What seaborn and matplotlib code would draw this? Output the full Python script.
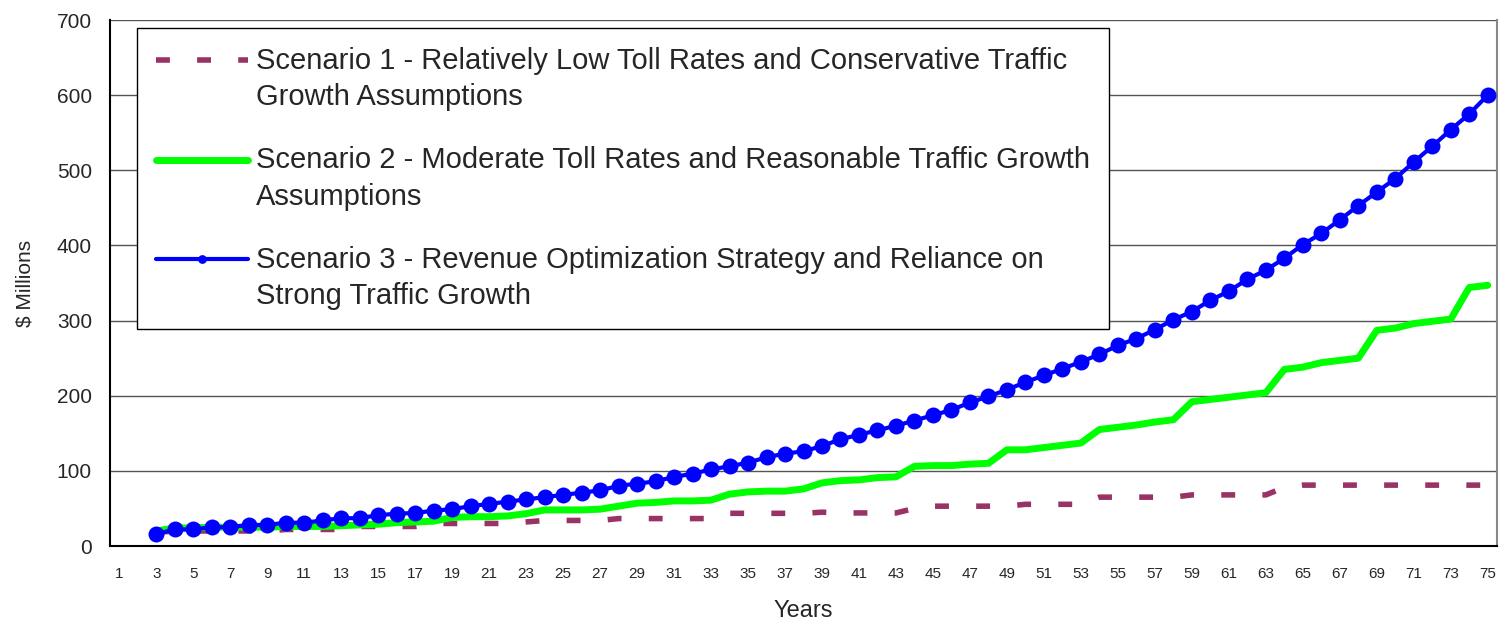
import numpy as np
import pandas as pd
import matplotlib
matplotlib.use("Agg")
import matplotlib.pyplot as plt
import seaborn as sns
from matplotlib.ticker import FixedLocator
from matplotlib.legend_handler import HandlerLine2D

years = list(range(3, 76))

scenario1 = [18, 20, 20, 20, 20, 20, 20, 22, 22, 22, 22, 26, 26, 26, 26,
             30, 30, 30, 30, 30, 32, 34, 34, 34, 34, 36.5, 36.5, 36.5, 36.5,
             36.5, 36.5, 43.5, 43.5, 43.5, 43.5, 43.5, 45, 44, 44, 44, 44,
             50, 53, 53, 53, 53, 53, 55.5, 55.5, 55.5, 55.5, 65, 65, 65, 65,
             65, 68, 68, 68, 68, 68, 78, 81, 81, 81, 81, 81, 81, 81, 81, 81,
             81, 81]

scenario2 = [20, 24, 24, 25, 25, 25, 25, 26, 26, 26, 27, 28, 29, 31, 32,
             33, 38, 39, 39, 40, 43, 48, 48, 48, 49, 53, 57, 58, 60, 60, 61,
             69, 72, 73, 73, 76, 84, 87, 88, 91, 92, 106, 107, 107, 109, 110,
             128, 128, 131, 134, 137, 155, 158, 161, 165, 168, 192, 195, 198,
             201, 204, 235, 238, 244, 247, 250, 287, 290, 296, 299, 302, 344,
             347]

scenario3 = [16, 22, 22, 25, 25, 28, 28, 31, 31, 34, 37, 37, 41, 43, 44,
             47, 49, 53, 56, 59, 62, 65, 68, 71, 74, 80, 83, 86, 92, 96, 102,
             106, 111, 118, 123, 126, 133, 142, 148, 154, 160, 167, 174, 181,
             191, 199, 208, 218, 227, 236, 245, 255, 267, 276, 288, 301, 312,
             327, 339, 355, 367, 383, 401, 416, 434, 453, 471, 489, 511, 532,
             554, 575, 600]

labels = [
    "Scenario 1 - Relatively Low Toll Rates and Conservative Traffic\nGrowth Assumptions",
    "Scenario 2 - Moderate Toll Rates and Reasonable Traffic Growth\nAssumptions",
    "Scenario 3 - Revenue Optimization Strategy and Reliance on\nStrong Traffic Growth",
]
x_tick_labels = [str(v) for v in range(1, 76, 2)]
y_ticks = [0, 100, 200, 300, 400, 500, 600, 700]

LEG_FS = 21
LEG_LS = 1.38


class TopLineHandler(HandlerLine2D):
    """Place the legend handle level with the first line of a two-line label."""
    def create_artists(self, legend, orig_handle, xdescent, ydescent, width,
                       height, fontsize, trans):
        artists = super().create_artists(legend, orig_handle, xdescent, ydescent,
                                         width, height, fontsize, trans)
        shift = 14.0
        for a in artists:
            y = np.asarray(a.get_ydata(), dtype=float)
            a.set_ydata(y + shift)
        return artists


sns.set_theme(style="white")
plt.rcParams["font.family"] = ["Liberation Sans", "DejaVu Sans"]

df = pd.DataFrame({"Year": years, "S1": scenario1, "S2": scenario2, "S3": scenario3})

fig = plt.figure(figsize=(15.08, 6.24), dpi=100)
ax = fig.add_axes([110 / 1508, 78 / 624, 1387 / 1508, 526 / 624])

sns.lineplot(data=df, x="Year", y="S1", ax=ax, color="#993366", linewidth=4,
             linestyle=(0, (2.5, 4.9)), label=labels[0], zorder=3)
ax.get_lines()[-1].set_dash_capstyle("butt")
sns.lineplot(data=df, x="Year", y="S2", ax=ax, color="#00FF00", linewidth=5,
             label=labels[1], zorder=4)
sns.lineplot(data=df, x="Year", y="S3", ax=ax, color="#0000FF", linewidth=3,
             marker="o", markersize=11.5, markeredgewidth=0, label=labels[2], zorder=5)

ax.set_xlim(0.5, 75.5)
ax.set_ylim(0, 700)
ax.set_yticks(y_ticks)
ax.set_yticklabels([str(v) for v in y_ticks], fontsize=15)
ax.xaxis.set_major_locator(FixedLocator(list(range(1, 76, 2))))
ax.set_xticklabels(x_tick_labels, fontsize=11)
ax.xaxis.set_minor_locator(FixedLocator([k + 0.5 for k in range(0, 76)]))
ax.tick_params(axis="x", which="major", length=0, pad=15)
ax.tick_params(axis="x", which="minor", length=5, width=1, color="black", direction="out")
ax.tick_params(axis="y", which="major", length=5, width=1, color="black", direction="out", pad=8)

ax.grid(False)
for v in y_ticks[1:]:
    ax.axhline(v, color="#555555", linewidth=1.0, zorder=1)

for side in ["left", "bottom"]:
    ax.spines[side].set_color("black")
    ax.spines[side].set_linewidth(1.5)
ax.spines["right"].set_color("#888888")
ax.spines["right"].set_linewidth(1.5)
ax.spines["top"].set_visible(False)

ax.set_xlabel("Years", fontsize=17, labelpad=14)
ax.set_ylabel("$ Millions", fontsize=15, labelpad=16)

handles, _ = ax.get_legend_handles_labels()
leg = ax.legend(handles, labels, loc="upper left", bbox_to_anchor=(0.0195, 0.985),
                borderaxespad=0, fontsize=LEG_FS, frameon=True, fancybox=False,
                shadow=False, handlelength=3.15, handletextpad=0.28, labelspacing=1.2,
                borderpad=0.65, markerscale=0.55,
                handler_map={h: TopLineHandler() for h in handles})
leg.get_frame().set_edgecolor("black")
leg.get_frame().set_linewidth(1.0)
leg.get_frame().set_alpha(1)
for t in leg.get_texts():
    t.set_linespacing(LEG_LS)

fig.savefig("out.png", dpi=100)
